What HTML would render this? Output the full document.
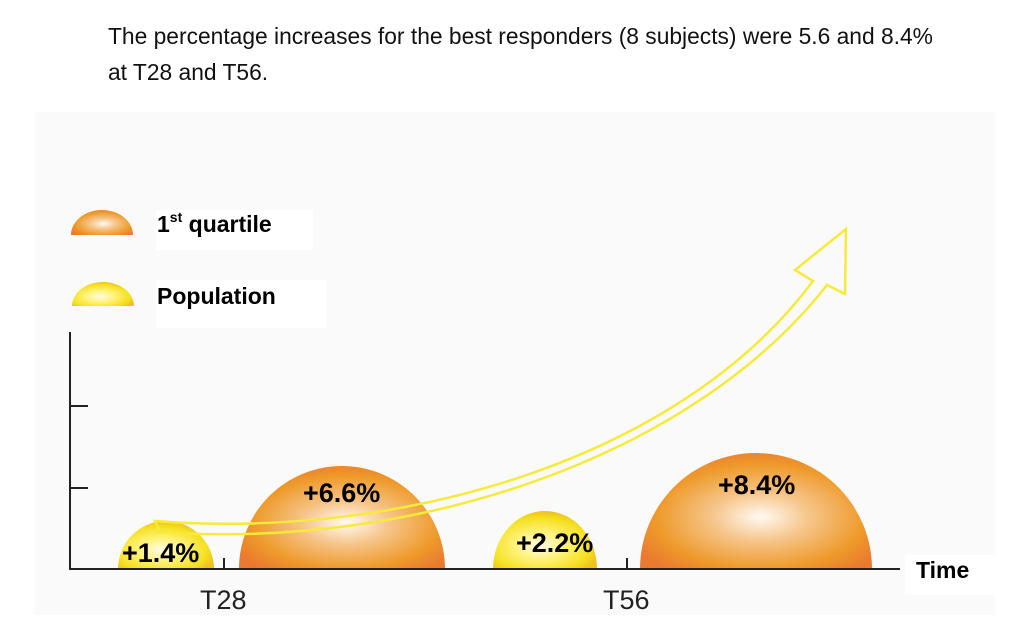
<!DOCTYPE html>
<html><head><meta charset="utf-8"><style>
body{margin:0;background:#fff;width:1024px;height:643px;overflow:hidden;font-family:"Liberation Sans",Arial,sans-serif}
</style></head><body>
<svg width="1024" height="643" xmlns="http://www.w3.org/2000/svg" style="position:absolute;left:0;top:0">
<defs>
<radialGradient id="og" cx="0.52" cy="0.55" r="0.6">
<stop offset="0" stop-color="#fffaf2"/><stop offset="0.35" stop-color="#f6c58a"/><stop offset="0.75" stop-color="#ee9a2a"/><stop offset="1" stop-color="#ea7a30"/></radialGradient>
<radialGradient id="yg" cx="0.45" cy="0.6" r="0.6">
<stop offset="0" stop-color="#fffbe6"/><stop offset="0.4" stop-color="#fff27a"/><stop offset="0.8" stop-color="#f5e020"/><stop offset="1" stop-color="#eec020"/></radialGradient>
</defs>
<text x="108" y="44" font-size="22.8" fill="#111">The percentage increases for the best responders (8 subjects) were 5.6 and 8.4%</text>
<text x="108" y="80" font-size="22.8" fill="#111">at T28 and T56.</text>
<rect x="35" y="112" width="960" height="503" fill="#fafafa"/>
<rect x="156" y="210" width="157" height="40" fill="#fff"/>
<rect x="156" y="280" width="170" height="48" fill="#fff"/>
<rect x="905" y="555" width="90" height="40" fill="#fff"/>
<path d="M71,235 A31,25 0 0 1 133,235 Z" fill="url(#og)"/>
<path d="M72,306 A31,24 0 0 1 134,306 Z" fill="url(#yg)"/>
<text x="157" y="232" font-size="23" font-weight="bold" fill="#000">1<tspan font-size="14" dy="-10">st</tspan><tspan dy="10"> quartile</tspan></text>
<text x="157" y="304" font-size="23" font-weight="bold" fill="#000">Population</text>
<path d="M118,569 A48,48 0 0 1 214,569 Z" fill="url(#yg)"/>
<path d="M239,569 A103,103 0 0 1 445,569 Z" fill="url(#og)"/>
<path d="M493,569 A52,58 0 0 1 597,569 Z" fill="url(#yg)"/>
<path d="M640,569 A116,116 0 0 1 872,569 Z" fill="url(#og)"/>
<path d="M155,521 C400,540 680,460 813,281 L795,270 L846,229 L845,294 L827,285 C690,460 410,550 160,532 Z" fill="none" stroke="#f7ea3a" stroke-width="2.5"/>
<g stroke="#222" stroke-width="2" fill="none">
<path d="M70,332 V569 H900"/>
<path d="M70,406 H88 M70,488 H88 M224,558 V569 M627,558 V569"/>
</g>
<g font-size="27" font-weight="bold" fill="#000">
<text x="122" y="562">+1.4%</text>
<text x="303" y="502">+6.6%</text>
<text x="516" y="552">+2.2%</text>
<text x="718" y="494">+8.4%</text>
<text x="916" y="578" font-size="23">Time</text>
</g>
<text x="200" y="609" font-size="27" fill="#222">T28</text>
<text x="603" y="609" font-size="27" fill="#222">T56</text>
</svg>
</body></html>
